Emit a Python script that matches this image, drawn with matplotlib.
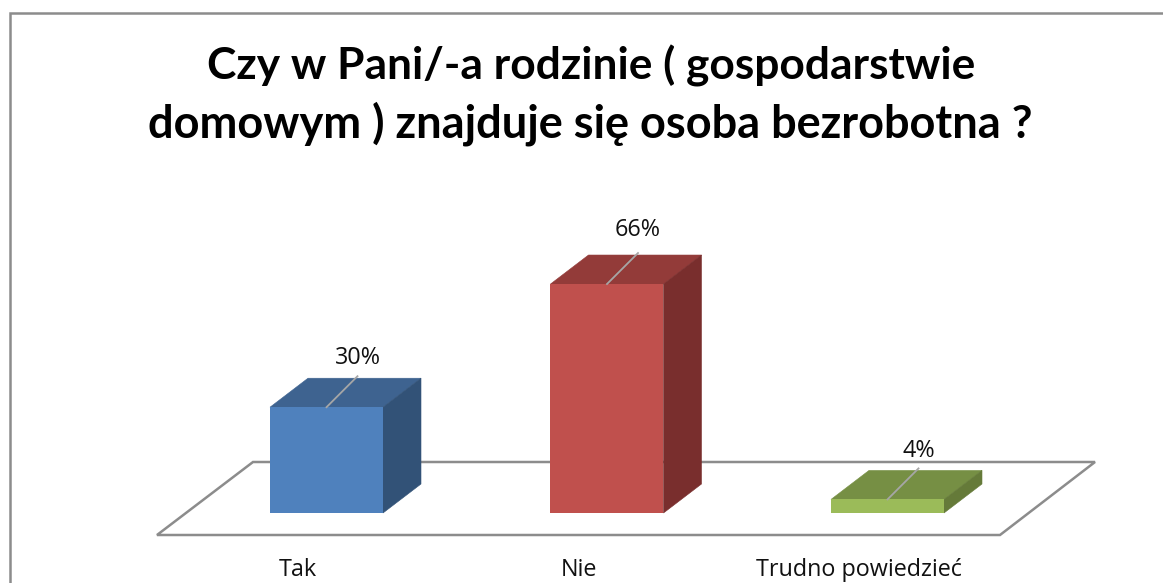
import matplotlib
matplotlib.use('Agg')
import matplotlib.pyplot as plt
from matplotlib.patches import Polygon, Rectangle

categories = ['Tak', 'Nie', 'Trudno powiedzieć']
values = [30.4, 65.8, 3.9]
front_colors = ['#4f81bd', '#c0504d', '#9bbb59']
top_colors = ['#3e6390', '#933b39', '#768f44']
side_colors = ['#325277', '#792e2d', '#657a39']
title_lines = ['Czy w Pani/-a rodzinie ( gospodarstwie', 'domowym ) znajduje się osoba bezrobotna ?']

W, H = 1163, 583
# pixels per category / per percent, everything below goes through these
px_x = 280.5
px_y = 3.48
x0 = 326.5
y0 = 513

plt.rcParams['font.family'] = ['Open Sans', 'DejaVu Sans']
fig = plt.figure(figsize=(W / 100, H / 100), dpi=100)
ax = fig.add_axes([0, 0, 1, 1])
ax.set_xlim(-x0 / px_x, (W - x0) / px_x)
ax.set_ylim(-(H - y0) / px_y, y0 / px_y)
ax.axis('off')

bar_w = 113 / px_x
dx = 38 / px_x
dy = 29 / px_y

# floor
fl_y1 = -22 / px_y
fl_y2 = 51 / px_y
fl = [(-169.5 / px_x, fl_y1), (673.5 / px_x, fl_y1), (768.5 / px_x, fl_y2), (-73.5 / px_x, fl_y2)]
ax.add_patch(Polygon(fl, closed=True, fill=False, ec='#8c8c8c', lw=1.8, zorder=1))

gaps = [18, 23, 17]
for i, v in enumerate(values):
    l = i - bar_w / 2
    r = i + bar_w / 2
    ax.add_patch(Polygon([(l, v), (r, v), (r + dx, v + dy), (l + dx, v + dy)], fc=top_colors[i], ec=top_colors[i], lw=0.4, zorder=2))
    ax.add_patch(Polygon([(r, 0), (r + dx, dy), (r + dx, v + dy), (r, v)], fc=side_colors[i], ec=side_colors[i], lw=0.4, zorder=2))
    ax.add_patch(Rectangle((l, 0), bar_w, v, fc=front_colors[i], ec='none', zorder=3))
    # leader line and label
    lx = i + 31 / px_x
    ly = v + 31 / px_y
    ax.plot([i, lx], [v, ly], color='#a6a6a6', lw=1.3, zorder=4)
    ax.text(lx, ly + gaps[i] / px_y, '%d%%' % round(v), ha='center', va='center', fontsize=16.8, color='#111111')
    ax.text(i - 28.5 / px_x, -57 / px_y, categories[i], ha='center', va='center', fontsize=16.8, color='#111111')

# outer frame
fig.add_artist(Rectangle((9.5 / W, -0.01), 1.01 - 9.5 / W, 1.01 - 12.5 / H, transform=fig.transFigure, fill=False, ec='#8c8c8c', lw=1.8))

fig.text(591.5 / W, 1 - 66 / H, title_lines[0], ha='center', va='center', fontsize=31.9, fontweight='bold', family=['Lato', 'DejaVu Sans'], color='black')
fig.text(590 / W, 1 - 124 / H, title_lines[1], ha='center', va='center', fontsize=32.5, fontweight='bold', family=['Lato', 'DejaVu Sans'], color='black')

fig.savefig('out.png', dpi=100)
